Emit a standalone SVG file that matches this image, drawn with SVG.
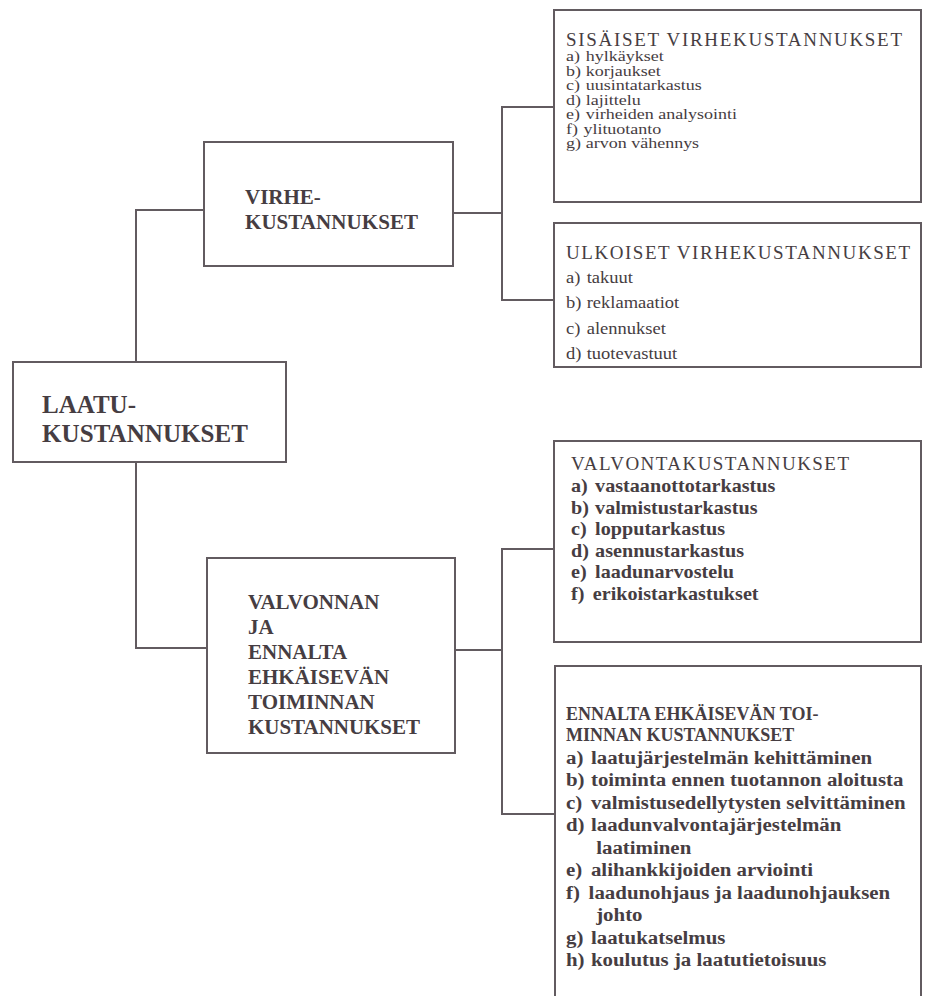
<svg xmlns="http://www.w3.org/2000/svg" width="925" height="996" viewBox="0 0 925 996" font-family="'Liberation Serif', 'Times New Roman', serif">
<style>
.box{fill:#fff;stroke:#625b60;stroke-width:2}
.con{fill:none;stroke:#625b60;stroke-width:2}
text{font-family:'Liberation Serif','Times New Roman',serif;fill:#463d42}
.main{font-weight:bold;font-size:21px}
.root{font-weight:bold;font-size:25px}
.hd{font-size:19px}
.hd2{font-size:18px;font-weight:bold}
.it1{font-size:15px}
.it2{font-size:17px}
.it3{font-size:18px;font-weight:bold}
</style>
<rect width="925" height="996" fill="#fff"/>
<g id="connectors">
<path class="con" d="M136,362 V210 H204"/>
<path class="con" d="M136,462 V648 H207"/>
<path class="con" d="M453,213 H502"/>
<path class="con" d="M554,107 H502 V300 H554"/>
<path class="con" d="M455,650 H502"/>
<path class="con" d="M554,549 H502 V814 H555"/>
</g>
<g id="root">
<rect class="box" x="13" y="362" width="273" height="100"/>
<text class="root" x="42" y="413">LAATU-</text>
<text class="root" x="42" y="442" textLength="206">KUSTANNUKSET</text>
</g>
<g id="virhe">
<rect class="box" x="204" y="142" width="249" height="124"/>
<text class="main" x="245" y="204">VIRHE-</text>
<text class="main" x="245" y="229" textLength="173">KUSTANNUKSET</text>
</g>
<g id="valvonnan">
<rect class="box" x="207" y="558" width="248" height="195"/>
<text class="main" x="248" y="609">VALVONNAN</text>
<text class="main" x="248" y="634">JA</text>
<text class="main" x="248" y="659">ENNALTA</text>
<text class="main" x="248" y="684">EHKÄISEVÄN</text>
<text class="main" x="248" y="709">TOIMINNAN</text>
<text class="main" x="248" y="734" textLength="172">KUSTANNUKSET</text>
</g>
<g id="sisaiset">
<rect class="box" x="554" y="10" width="367" height="192"/>
<text class="hd" x="566" y="46" textLength="336">SISÄISET VIRHEKUSTANNUKSET</text>
<g transform="translate(566,0) scale(1.2,1)">
<text class="it1" y="61"><tspan x="0">a)</tspan><tspan x="16.5">hylkäykset</tspan></text>
<text class="it1" y="76"><tspan x="0">b)</tspan><tspan x="16.5">korjaukset</tspan></text>
<text class="it1" y="90"><tspan x="0">c)</tspan><tspan x="16.5">uusintatarkastus</tspan></text>
<text class="it1" y="105"><tspan x="0">d)</tspan><tspan x="16.5">lajittelu</tspan></text>
<text class="it1" y="119"><tspan x="0">e)</tspan><tspan x="16.5">virheiden analysointi</tspan></text>
<text class="it1" y="134"><tspan x="0">f)</tspan><tspan x="14.5">ylituotanto</tspan></text>
<text class="it1" y="148"><tspan x="0">g)</tspan><tspan x="16.5">arvon vähennys</tspan></text>
</g>
</g>
<g id="ulkoiset">
<rect class="box" x="554" y="223" width="367" height="144"/>
<text class="hd" x="566" y="259" textLength="344">ULKOISET VIRHEKUSTANNUKSET</text>
<g transform="translate(566,0) scale(1.09,1)">
<text class="it2" y="283"><tspan x="0">a)</tspan><tspan x="19">takuut</tspan></text>
<text class="it2" y="308"><tspan x="0">b)</tspan><tspan x="19">reklamaatiot</tspan></text>
<text class="it2" y="334"><tspan x="0">c)</tspan><tspan x="19">alennukset</tspan></text>
<text class="it2" y="359"><tspan x="0">d)</tspan><tspan x="19">tuotevastuut</tspan></text>
</g>
</g>
<g id="valvonta">
<rect class="box" x="554" y="441" width="367" height="201"/>
<text class="hd" x="571" y="470" textLength="278">VALVONTAKUSTANNUKSET</text>
<g transform="translate(571,0) scale(1.12,1)">
<text class="it3" y="492"><tspan x="0">a)</tspan><tspan x="21.5">vastaanottotarkastus</tspan></text>
<text class="it3" y="514"><tspan x="0">b)</tspan><tspan x="21.5">valmistustarkastus</tspan></text>
<text class="it3" y="535"><tspan x="0">c)</tspan><tspan x="21.5">lopputarkastus</tspan></text>
<text class="it3" y="557"><tspan x="0">d)</tspan><tspan x="21.5">asennustarkastus</tspan></text>
<text class="it3" y="578"><tspan x="0">e)</tspan><tspan x="21.5">laadunarvostelu</tspan></text>
<text class="it3" y="600"><tspan x="0">f)</tspan><tspan x="19.5">erikoistarkastukset</tspan></text>
</g>
</g>
<g id="ennalta">
<path class="box" d="M921,997 V666 H555 V997"/>
<text class="hd2" x="566" y="720">ENNALTA EHKÄISEVÄN TOI-</text>
<text class="hd2" x="566" y="741">MINNAN KUSTANNUKSET</text>
<g transform="translate(566,0) scale(1.16,1)">
<text class="it3" y="764"><tspan x="0">a)</tspan><tspan x="21.5">laatujärjestelmän kehittäminen</tspan></text>
<text class="it3" y="786"><tspan x="0">b)</tspan><tspan x="21.5">toiminta ennen tuotannon aloitusta</tspan></text>
<text class="it3" y="809"><tspan x="0">c)</tspan><tspan x="21.5">valmistusedellytysten selvittäminen</tspan></text>
<text class="it3" y="831"><tspan x="0">d)</tspan><tspan x="21.5">laadunvalvontajärjestelmän</tspan></text>
<text class="it3" x="26" y="854">laatiminen</text>
<text class="it3" y="876"><tspan x="0">e)</tspan><tspan x="21.5">alihankkijoiden arviointi</tspan></text>
<text class="it3" y="899"><tspan x="0">f)</tspan><tspan x="19.5">laadunohjaus ja laadunohjauksen</tspan></text>
<text class="it3" x="26" y="921">johto</text>
<text class="it3" y="944"><tspan x="0">g)</tspan><tspan x="21.5">laatukatselmus</tspan></text>
<text class="it3" y="966"><tspan x="0">h)</tspan><tspan x="21.5">koulutus ja laatutietoisuus</tspan></text>
</g>
</g>
</svg>
